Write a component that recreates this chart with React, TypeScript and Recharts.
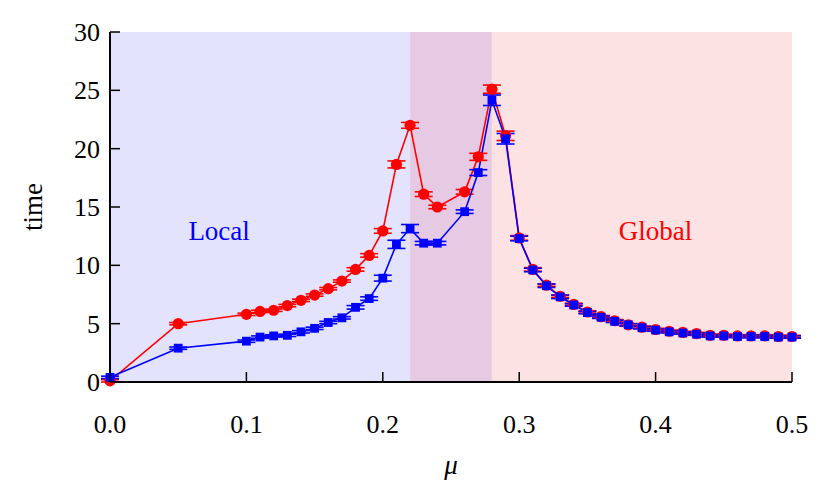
import React from 'react';
import { LineChart, Line, XAxis, YAxis, ErrorBar, ReferenceArea, ReferenceDot } from 'recharts';

const mu = [0, 0.05, 0.1, 0.11, 0.12, 0.13, 0.14, 0.15, 0.16, 0.17, 0.18, 0.19, 0.2, 0.21, 0.22, 0.23, 0.24, 0.26, 0.27, 0.28, 0.29, 0.3, 0.31, 0.32, 0.33, 0.34, 0.35, 0.36, 0.37, 0.38, 0.39, 0.4, 0.41, 0.42, 0.43, 0.44, 0.45, 0.46, 0.47, 0.48, 0.49, 0.5];
const redTime = [0.1, 5.0, 5.8, 6.05, 6.15, 6.55, 7.0, 7.45, 8.0, 8.65, 9.65, 10.85, 12.95, 18.65, 22.0, 16.1, 15.0, 16.3, 19.3, 25.1, 21.1, 12.35, 9.65, 8.3, 7.35, 6.65, 6.0, 5.6, 5.25, 4.9, 4.7, 4.5, 4.35, 4.25, 4.15, 4.0, 4.0, 3.95, 3.95, 3.95, 3.9, 3.9];
const redErr = [0.1, 0.1, 0.1, 0.1, 0.1, 0.1, 0.1, 0.1, 0.1, 0.1, 0.15, 0.15, 0.2, 0.3, 0.25, 0.2, 0.15, 0.2, 0.3, 0.35, 0.4, 0.2, 0.15, 0.1, 0.1, 0.1, 0.1, 0.1, 0.1, 0.1, 0.1, 0.1, 0.1, 0.1, 0.1, 0.1, 0.1, 0.1, 0.1, 0.1, 0.1, 0.1];
const blueTime = [0.4, 2.9, 3.5, 3.85, 3.95, 4.0, 4.3, 4.6, 5.1, 5.5, 6.4, 7.15, 8.9, 11.8, 13.15, 11.9, 11.9, 14.6, 17.95, 24.15, 20.85, 12.3, 9.6, 8.25, 7.3, 6.6, 5.95, 5.55, 5.2, 4.9, 4.65, 4.45, 4.3, 4.2, 4.1, 3.95, 3.95, 3.9, 3.9, 3.9, 3.85, 3.85];
const blueErr = [0.1, 0.1, 0.1, 0.1, 0.1, 0.1, 0.1, 0.1, 0.1, 0.1, 0.15, 0.15, 0.25, 0.35, 0.35, 0.15, 0.15, 0.15, 0.25, 0.45, 0.45, 0.2, 0.15, 0.15, 0.15, 0.1, 0.1, 0.1, 0.1, 0.1, 0.1, 0.1, 0.1, 0.1, 0.1, 0.1, 0.1, 0.1, 0.1, 0.1, 0.1, 0.1];
const xTicks = [0, 0.1, 0.2, 0.3, 0.4, 0.5];
const yTicks = [0, 5, 10, 15, 20, 25, 30];

const data = mu.map((m, i) => ({
  mu: m,
  red: redTime[i],
  redErr: redErr[i],
  blue: blueTime[i],
  blueErr: blueErr[i],
}));

const XTick = (props: any) => {
  const { x, y, payload } = props;
  return (
    <g>
      <line x1={x} y1={y} x2={x} y2={y - 10} stroke="#000" strokeWidth={1.5} />
      <text x={x} y={y + 51} textAnchor="middle" fontSize={26} fill="#000">
        {Number(payload.value).toFixed(1)}
      </text>
    </g>
  );
};

const YTick = (props: any) => {
  const { x, y, payload } = props;
  return (
    <g>
      <line x1={x} y1={y} x2={x + 10} y2={y} stroke="#000" strokeWidth={1.5} />
      <text x={x - 10} y={y} dy="0.35em" textAnchor="end" fontSize={26} fill="#000">
        {payload.value}
      </text>
    </g>
  );
};

const RedDot = (props: any) => {
  const { cx, cy } = props;
  if (cx == null || cy == null) return null;
  return <circle cx={cx} cy={cy} r={5.6} fill="#ff0000" />;
};

const BlueDot = (props: any) => {
  const { cx, cy } = props;
  if (cx == null || cy == null) return null;
  return <rect x={cx - 4.4} y={cy - 4.4} width={8.8} height={8.8} fill="#0000ff" />;
};

export default function App() {
  return (
    <div style={{ position: 'absolute', left: 0, top: 0, fontFamily: '"Liberation Serif", "Times New Roman", serif' }}>
      <LineChart width={829} height={501} data={data} margin={{ top: 32, right: 37, left: 0, bottom: 59 }}>
        <ReferenceArea x1={0} x2={0.22} y1={0} y2={30} fill="#e3e3fd" fillOpacity={1} stroke="none" ifOverflow="hidden" />
        <ReferenceArea x1={0.22} x2={0.28} y1={0} y2={30} fill="#e6cae3" fillOpacity={1} stroke="none" ifOverflow="hidden" />
        <ReferenceArea x1={0.28} x2={0.5} y1={0} y2={30} fill="#fde2e4" fillOpacity={1} stroke="none" ifOverflow="hidden" />
        <XAxis
          dataKey="mu"
          type="number"
          domain={[0, 0.5]}
          ticks={xTicks}
          height={60}
          tickSize={0}
          tickMargin={0}
          tickLine={false}
          tick={<XTick />}
          axisLine={{ stroke: '#000', strokeWidth: 2 }}
          interval={0}
          label={{
            content: (p: any) => {
              const vb = p.viewBox || { x: 110, width: 682, y: 382 };
              return (
                <text x={vb.x + vb.width / 2} y={474} textAnchor="middle" fontSize={27} fontStyle="italic" fill="#000">
                  μ
                </text>
              );
            },
          }}
        />
        <YAxis
          type="number"
          domain={[0, 30]}
          ticks={yTicks}
          width={110}
          tickSize={0}
          tickMargin={0}
          tickLine={false}
          tick={<YTick />}
          axisLine={{ stroke: '#000', strokeWidth: 2 }}
          interval={0}
          label={{
            content: (p: any) => {
              const vb = p.viewBox || { x: 0, y: 32, height: 350 };
              return (
                <text transform={`translate(42,${vb.y + vb.height / 2}) rotate(-90)`} textAnchor="middle" fontSize={27} fill="#000">
                  time
                </text>
              );
            },
          }}
        />
        <ReferenceDot x={0.08} y={13} r={0} fill="none" stroke="none" label={{ value: 'Local', position: 'center', fill: '#0000ff', fontSize: 27 }} />
        <ReferenceDot x={0.4} y={13} r={0} fill="none" stroke="none" label={{ value: 'Global', position: 'center', fill: '#ff0000', fontSize: 27 }} />
        <Line dataKey="red" stroke="#ff0000" strokeWidth={1.6} dot={<RedDot />} activeDot={false} isAnimationActive={false}>
          <ErrorBar dataKey="redErr" direction="y" width={9} stroke="#ff0000" strokeWidth={1.6} isAnimationActive={false} />
        </Line>
        <Line dataKey="blue" stroke="#0000ff" strokeWidth={1.6} dot={<BlueDot />} activeDot={false} isAnimationActive={false}>
          <ErrorBar dataKey="blueErr" direction="y" width={9} stroke="#0000ff" strokeWidth={1.6} isAnimationActive={false} />
        </Line>
      </LineChart>
    </div>
  );
}
